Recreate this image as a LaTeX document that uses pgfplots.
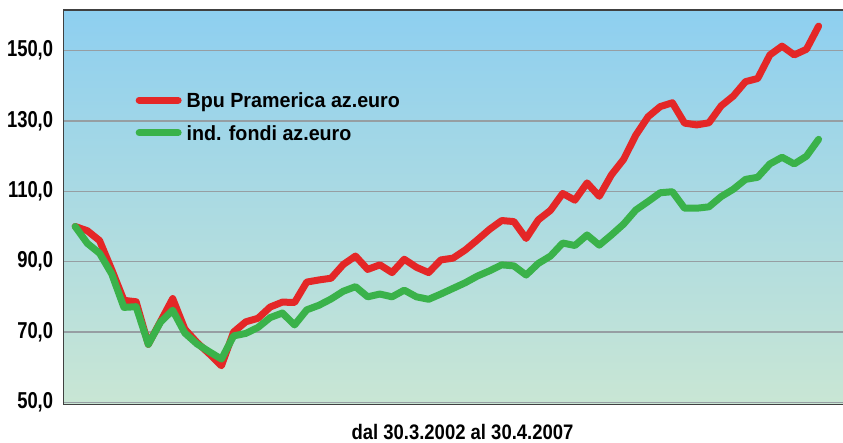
\documentclass[border=0pt]{standalone}
\usepackage{fontspec}
\setmainfont{Liberation Sans}
\newfontfamily\tickfont[FakeStretch=0.80]{Liberation Sans Bold}
\newfontfamily\legfont[FakeStretch=0.96]{Liberation Sans Bold}
\newfontfamily\titfont[FakeStretch=0.88]{Liberation Sans Bold}
\usepackage{pgfplots}
\usepackage{pgfplotstable}
\pgfplotsset{compat=1.18}
\definecolor{cred}{RGB}{228,39,39}
\definecolor{cgreen}{RGB}{58,178,74}
\definecolor{bgtop}{RGB}{142,207,240}
\definecolor{bgmid}{RGB}{176,219,226}
\definecolor{bgbot}{RGB}{201,230,212}
\definecolor{gridc}{RGB}{150,158,163}
\definecolor{framec}{RGB}{64,64,64}

\pgfplotstableread{
x y
0 100
1 98.8
2 96
3 87.7
4 79
5 78.6
6 66.5
7 73
8 79.5
9 70.8
10 67
11 63.8
12 60.4
13 70
14 72.9
15 73.9
16 77.1
17 78.5
18 78.4
19 84.2
20 84.8
21 85.3
22 89.2
23 91.6
24 87.8
25 89.1
26 86.9
27 90.7
28 88.4
29 86.9
30 90.5
31 91
32 93.3
33 96.2
34 99.2
35 101.7
36 101.4
37 96.6
38 101.9
39 104.6
40 109.4
41 107.5
42 112.4
43 108.6
44 114.7
45 119.1
46 126
47 131.2
48 134.1
49 135.2
50 129.4
51 128.9
52 129.5
53 134.3
54 137.1
55 141.2
56 142.1
57 148.8
58 151.3
59 148.8
60 150.4
61 157
}\redtab

\pgfplotstableread{
x y
0 100
1 95.2
2 92.4
3 86.5
4 77
5 77.2
6 66.5
7 72.8
8 76.2
9 69.7
10 66.6
11 64.4
12 62.3
13 68.9
14 69.6
15 71.3
16 74.1
17 75.4
18 72
19 76.3
20 77.6
21 79.4
22 81.6
23 82.9
24 80
25 80.8
26 80
27 81.9
28 80
29 79.3
30 80.8
31 82.4
32 84
33 85.9
34 87.4
35 89.1
36 88.8
37 86.2
38 89.5
39 91.6
40 95.3
41 94.6
42 97.6
43 94.7
44 97.6
45 100.7
46 104.7
47 107.1
48 109.6
49 109.9
50 105.2
51 105.2
52 105.6
53 108.5
54 110.6
55 113.4
56 114
57 117.8
58 119.7
59 117.8
60 120
61 124.8
}\greentab

\begin{document}
\begin{tikzpicture}
\begin{axis}[
  at={(63bp,38bp)}, anchor=south west,
  scale only axis, width=780bp, height=395bp,
  xmin=-1, xmax=63, ymin=49.24, ymax=161.58,
  xtick=\empty,
  ytick={50,70,90,110,130,150},
  yticklabels={{50,0},{70,0},{90,0},{110,0},{130,0},{150,0}},
  yticklabel style={font=\tickfont\fontsize{23bp}{23bp}\selectfont, anchor=east, inner sep=0pt, text height=16.5bp, text depth=0pt, xshift=-9.7bp, yshift=2bp},
  major tick length=0pt,
  ymajorgrids,
  grid style={line width=1.3bp, color=gridc},
  axis line style={draw=none},
  axis background/.style={top color=bgtop, middle color=bgmid, bottom color=bgbot},
  legend style={at={(rel axis cs:0.0929,0.791)}, anchor=north west, draw=none, fill=none, inner sep=0pt,
    font=\legfont\fontsize{20.5bp}{20.5bp}\selectfont, row sep=17.5bp, column sep=5bp,
    nodes={inner sep=0pt, text height=15bp, text depth=0pt}},
  legend cell align=left,
  legend image code/.code={\draw[#1, line cap=round] (0bp,0bp) -- (39bp,0bp);},
]
\addplot[cred, line width=7bp, line join=round, line cap=round] table[x=x,y=y] {\redtab};
\addlegendentry{Bpu Pramerica az.euro}
\addplot[cgreen, line width=7bp, line join=round, line cap=round] table[x=x,y=y] {\greentab};
\addlegendentry{ind. fondi az.euro}
\draw[framec, line width=1.5bp] (rel axis cs:1,1) -- (rel axis cs:0,1) -- (rel axis cs:0,0) -- (rel axis cs:1,0);
\end{axis}
\node[anchor=base, inner sep=0pt, font=\titfont\fontsize{21bp}{21bp}\selectfont] at (462.5bp,3.2bp) {dal 30.3.2002 al 30.4.2007};
\pgfresetboundingbox
\useasboundingbox (0,0) rectangle (843bp,443bp);
\end{tikzpicture}
\end{document}
